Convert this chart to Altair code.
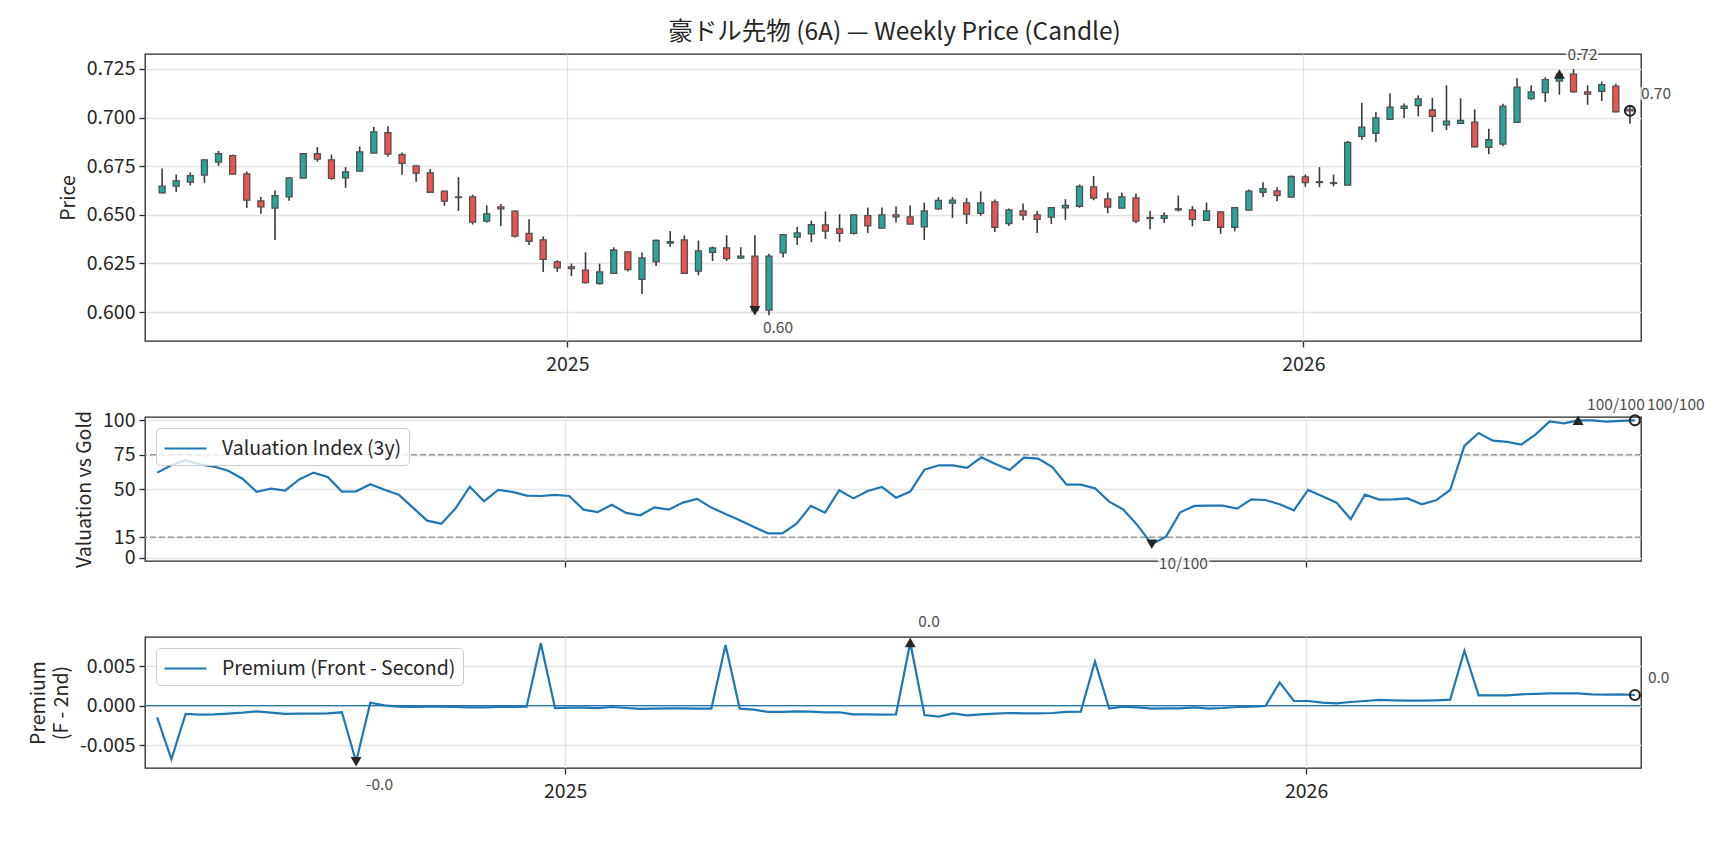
import altair as alt
import numpy as np
import pandas as pd

FONT = "Noto Sans CJK JP"
INK = "#262626"
TEAL = "#26a69a"
RED = "#ef5350"
BLUE = "#1f77b4"
NOTE = "#4d4d4d"
GRID = "#e4e4e4"

# Weekly bars start on this Friday
first_week = "2024-06-14"

open_px = [
    0.6613, 0.6647, 0.6668, 0.6704, 0.6771, 0.6804, 0.6711, 0.6572, 0.6534, 0.6592,
    0.6689, 0.6814, 0.6783, 0.6690, 0.6725, 0.6817, 0.6922, 0.6809, 0.6752, 0.6716,
    0.6622, 0.6589, 0.6592, 0.6467, 0.6541, 0.6519, 0.6404, 0.6371, 0.6258, 0.6232,
    0.6216, 0.6146, 0.6199, 0.6309, 0.6168, 0.6258, 0.6354, 0.6371, 0.6210, 0.6307,
    0.6330, 0.6277, 0.6288, 0.6010, 0.6304, 0.6385, 0.6402, 0.6448, 0.6428, 0.6405,
    0.6496, 0.6431, 0.6500, 0.6489, 0.6438, 0.6531, 0.6560, 0.6561, 0.6507, 0.6567,
    0.6455, 0.6520, 0.6500, 0.6488, 0.6536, 0.6544, 0.6644, 0.6582, 0.6534, 0.6587,
    0.6486, 0.6482, 0.6525, 0.6525, 0.6472, 0.6515, 0.6436, 0.6524, 0.6616, 0.6623,
    0.6591, 0.6695, 0.6670, 0.6661, 0.6653, 0.6903, 0.6919, 0.6991, 0.7047, 0.7061,
    0.7039, 0.6963, 0.6970, 0.6977, 0.6847, 0.6864, 0.6975, 0.7097, 0.7128, 0.7188,
    0.7224, 0.7132, 0.7135, 0.7162, 0.7042,
]
high_px = [
    0.6738, 0.6707, 0.6718, 0.6785, 0.6828, 0.6810, 0.6723, 0.6591, 0.6625, 0.6692,
    0.6816, 0.6848, 0.6810, 0.6745, 0.6852, 0.6951, 0.6956, 0.6821, 0.6754, 0.6735,
    0.6624, 0.6694, 0.6604, 0.6549, 0.6555, 0.6522, 0.6477, 0.6388, 0.6266, 0.6249,
    0.6307, 0.6249, 0.6333, 0.6311, 0.6306, 0.6373, 0.6416, 0.6395, 0.6368, 0.6337,
    0.6395, 0.6333, 0.6395, 0.6300, 0.6400, 0.6438, 0.6470, 0.6517, 0.6503, 0.6502,
    0.6537, 0.6537, 0.6543, 0.6548, 0.6563, 0.6591, 0.6591, 0.6586, 0.6620, 0.6579,
    0.6532, 0.6558, 0.6519, 0.6539, 0.6580, 0.6656, 0.6699, 0.6615, 0.6615, 0.6610,
    0.6519, 0.6512, 0.6599, 0.6544, 0.6563, 0.6519, 0.6539, 0.6630, 0.6668, 0.6642,
    0.6702, 0.6707, 0.6745, 0.6707, 0.6879, 0.7075, 0.7027, 0.7125, 0.7073, 0.7114,
    0.7102, 0.7166, 0.7099, 0.7042, 0.6943, 0.7071, 0.7202, 0.7166, 0.7207, 0.7230,
    0.7250, 0.7166, 0.7185, 0.7174, 0.7054,
]
low_px = [
    0.6610, 0.6618, 0.6651, 0.6665, 0.6752, 0.6707, 0.6536, 0.6505, 0.6371, 0.6572,
    0.6687, 0.6773, 0.6680, 0.6639, 0.6723, 0.6815, 0.6798, 0.6706, 0.6670, 0.6614,
    0.6546, 0.6520, 0.6450, 0.6460, 0.6443, 0.6383, 0.6345, 0.6206, 0.6206, 0.6185,
    0.6146, 0.6141, 0.6197, 0.6208, 0.6093, 0.6237, 0.6335, 0.6197, 0.6189, 0.6263,
    0.6263, 0.6275, 0.6005, 0.5983, 0.6280, 0.6345, 0.6359, 0.6376, 0.6361, 0.6398,
    0.6407, 0.6429, 0.6460, 0.6450, 0.6371, 0.6525, 0.6484, 0.6453, 0.6495, 0.6412,
    0.6443, 0.6472, 0.6407, 0.6453, 0.6474, 0.6536, 0.6575, 0.6508, 0.6532, 0.6458,
    0.6426, 0.6458, 0.6517, 0.6441, 0.6470, 0.6402, 0.6416, 0.6522, 0.6591, 0.6570,
    0.6589, 0.6644, 0.6642, 0.6646, 0.6651, 0.6886, 0.6874, 0.6989, 0.6998, 0.7006,
    0.6926, 0.6936, 0.6968, 0.6847, 0.6812, 0.6853, 0.6973, 0.7092, 0.7080, 0.7118,
    0.7128, 0.7066, 0.7085, 0.7027, 0.6968,
]
close_px = [
    0.6647, 0.6675, 0.6701, 0.6783, 0.6814, 0.6709, 0.6575, 0.6541, 0.6598, 0.6690,
    0.6814, 0.6786, 0.6687, 0.6721, 0.6824, 0.6927, 0.6812, 0.6764, 0.6714, 0.6616,
    0.6570, 0.6592, 0.6462, 0.6505, 0.6531, 0.6390, 0.6364, 0.6271, 0.6227, 0.6223,
    0.6151, 0.6206, 0.6319, 0.6218, 0.6278, 0.6368, 0.6362, 0.6199, 0.6314, 0.6330,
    0.6275, 0.6288, 0.6007, 0.6288, 0.6398, 0.6407, 0.6450, 0.6416, 0.6405, 0.6500,
    0.6443, 0.6500, 0.6489, 0.6452, 0.6520, 0.6574, 0.6575, 0.6503, 0.6561, 0.6436,
    0.6525, 0.6498, 0.6477, 0.6537, 0.6548, 0.6646, 0.6586, 0.6539, 0.6592, 0.6467,
    0.6481, 0.6496, 0.6531, 0.6477, 0.6520, 0.6436, 0.6537, 0.6622, 0.6635, 0.6599,
    0.6697, 0.6666, 0.6666, 0.6665, 0.6872, 0.6951, 0.6998, 0.7054, 0.7059, 0.7096,
    0.7006, 0.6982, 0.6986, 0.6850, 0.6886, 0.7059, 0.7157, 0.7132, 0.7195, 0.7224,
    0.7132, 0.7121, 0.7169, 0.7029, 0.7035,
]
valuation = [
    62.0, 67.3, 71.0, 68.0, 66.3, 63.4, 57.6, 48.0, 50.4, 49.0,
    57.0, 62.0, 58.8, 48.2, 48.4, 53.5, 49.6, 46.0, 36.6, 27.1,
    24.9, 36.0, 51.8, 41.2, 49.4, 48.0, 45.3, 45.0, 45.8, 45.0,
    35.1, 33.3, 38.7, 32.7, 31.0, 36.8, 35.1, 40.2, 42.9, 36.6,
    32.0, 27.4, 22.5, 17.9, 17.9, 24.9, 37.8, 32.9, 49.2, 43.3,
    48.7, 51.6, 43.8, 48.2, 64.2, 67.3, 67.3, 65.4, 73.1, 68.3,
    63.9, 72.9, 72.2, 66.1, 53.3, 53.3, 50.6, 40.9, 35.1, 23.7,
    10.0, 15.5, 33.2, 37.8, 38.0, 38.0, 35.8, 42.6, 42.1, 39.0,
    34.6, 49.4, 44.8, 40.2, 28.3, 46.0, 42.4, 42.6, 43.3, 39.0,
    41.9, 49.4, 81.4, 90.8, 85.2, 84.3, 82.3, 89.6, 99.2, 97.8,
    100.0, 100.0, 99.0, 99.6, 100.0,
]
premium = [
    -0.00148, -0.00680, -0.00105, -0.00114, -0.00110, -0.00101, -0.00089, -0.00072, -0.00089, -0.00105,
    -0.00101, -0.00101, -0.00097, -0.00084, -0.00710, 0.00038, 0.00004, -0.00013, -0.00017, -0.00013,
    -0.00013, -0.00017, -0.00021, -0.00021, -0.00017, -0.00017, -0.00013, 0.00790, -0.00030, -0.00025,
    -0.00025, -0.00030, -0.00017, -0.00030, -0.00042, -0.00038, -0.00034, -0.00034, -0.00038, -0.00038,
    0.00770, -0.00038, -0.00050, -0.00080, -0.00080, -0.00072, -0.00076, -0.00084, -0.00084, -0.00110,
    -0.00110, -0.00114, -0.00110, 0.00800, -0.00118, -0.00139, -0.00097, -0.00122, -0.00110, -0.00101,
    -0.00093, -0.00097, -0.00097, -0.00093, -0.00080, -0.00076, 0.00561, -0.00038, -0.00013, -0.00021,
    -0.00038, -0.00034, -0.00034, -0.00021, -0.00038, -0.00030, -0.00017, -0.00013, -0.00004, 0.00295,
    0.00059, 0.00059, 0.00038, 0.00030, 0.00046, 0.00059, 0.00072, 0.00068, 0.00063, 0.00063,
    0.00068, 0.00076, 0.00696, 0.00131, 0.00131, 0.00131, 0.00143, 0.00150, 0.00156, 0.00156,
    0.00156, 0.00143, 0.00139, 0.00143, 0.00135,
]

weeks = pd.date_range(first_week, periods=len(close_px), freq="7D").strftime("%Y-%m-%d").tolist()

weekly = pd.DataFrame({
    "date": weeks,
    "open": open_px,
    "high": high_px,
    "low": low_px,
    "close": close_px,
    "valuation": valuation,
    "premium": premium,
    "val_series": "Valuation Index (3y)",
    "prem_series": "Premium (Front - Second)",
})

W = 1496
X_SCALE = alt.Scale(
    type="utc",
    domain=[
        alt.DateTime(year=2024, month=6, date=8, utc=True),
        alt.DateTime(year=2026, month=6, date=15, utc=True),
    ],
)
YEAR_TICKS = [
    alt.DateTime(year=2025, month=1, date=1, utc=True),
    alt.DateTime(year=2026, month=1, date=1, utc=True),
]


def x_enc(show_labels, title=None):
    axis = alt.Axis(values=YEAR_TICKS, format="%Y", formatType="utc", labels=show_labels,
                    labelPadding=8, titlePadding=8)
    return alt.X("date:T", scale=X_SCALE, axis=axis, title=title)


def annotations(field, y_of, values, fmt, offsets, show_x_labels=True):
    """Markers for the lowest, highest and latest value, each with its text."""
    lo = int(np.argmin(values))
    hi = int(np.argmax(values))
    last = len(values) - 1
    pts = pd.DataFrame({
        "date": [weeks[lo], weeks[hi], weeks[last]],
        field: [values[lo], values[hi], values[last]],
        "kind": ["min", "max", "last"],
        "label": [fmt(values[lo]), fmt(values[hi]), fmt(values[last])],
    })
    base = alt.Chart(pts)
    enc = dict(x=x_enc(show_x_labels), y=y_of(field))
    layers = [
        base.transform_filter("datum.kind == 'min'").mark_point(
            shape="triangle-down", filled=True, size=120, color=INK, opacity=1).encode(**enc),
        base.transform_filter("datum.kind == 'max'").mark_point(
            shape="triangle-up", filled=True, size=120, color=INK, opacity=1).encode(**enc),
        base.transform_filter("datum.kind == 'last'").mark_point(
            shape="circle", filled=False, size=100, strokeWidth=2.2, color=INK, opacity=1).encode(**enc),
    ]
    for kind, (dx, dy) in offsets.items():
        sub = base.transform_filter(f"datum.kind == '{kind}'")
        common = dict(align="left", baseline="middle", dx=dx, dy=dy, fontSize=15.5, font=FONT)
        layers.append(sub.mark_text(stroke="white", strokeWidth=5, strokeOpacity=0.75,
                                    color="white", **common).encode(text="label:N", **enc))
        layers.append(sub.mark_text(color=NOTE, **common).encode(text="label:N", **enc))
    return layers


def line_legend():
    return alt.Legend(orient="top-left", offset=11, title=None)


# ---- candlestick panel ----
PRICE_SCALE = alt.Scale(domain=[0.5851, 0.7327], nice=False, zero=False)
PRICE_AXIS = alt.Axis(values=[0.600, 0.625, 0.650, 0.675, 0.700, 0.725], format=".3f")


def y_price(field):
    return alt.Y(f"{field}:Q", scale=PRICE_SCALE, axis=PRICE_AXIS, title="Price")


cbase = alt.Chart(weekly)
wicks = cbase.mark_rule(color="#3a3a3a", strokeWidth=1.6).encode(
    x=x_enc(True), y=y_price("low"), y2="high:Q")
bodies = cbase.mark_bar(size=6, stroke="#505050", strokeWidth=1.3).encode(
    x=x_enc(True), y=y_price("open"), y2="close:Q",
    color=alt.condition("datum.close >= datum.open", alt.value(TEAL), alt.value(RED)),
)
price_panel = alt.layer(
    wicks, bodies,
    *annotations("px", y_price, close_px, lambda v: f"{v:.2f}",
                 {"min": (8, 17), "max": (8, -19), "last": (11, -17)})
).properties(width=W, height=287)

# ---- valuation panel ----
VAL_SCALE = alt.Scale(domain=[-2.2, 102.4], nice=False, zero=False)
VAL_AXIS = alt.Axis(values=[0, 15, 50, 75, 100], format="d")


def y_val(field):
    return alt.Y(f"{field}:Q", scale=VAL_SCALE, axis=VAL_AXIS, title="Valuation vs Gold")


bands = alt.Chart(pd.DataFrame({"level": [15, 75]})).mark_rule(
    color="#9a9a9a", strokeWidth=1.4, strokeDash=[6, 3]).encode(y=y_val("level"))
val_line = alt.Chart(weekly).mark_line(strokeWidth=2.2).encode(
    x=x_enc(False), y=y_val("valuation"),
    color=alt.Color("val_series:N", scale=alt.Scale(range=[BLUE]), legend=line_legend()),
)
val_panel = alt.layer(
    bands, val_line,
    *annotations("v", y_val, valuation, lambda v: f"{v:.0f}/100",
                 {"min": (7, 20), "max": (9, -15), "last": (12, -15)}, show_x_labels=False)
).properties(width=W, height=144)

# ---- premium panel ----
PREM_SCALE = alt.Scale(domain=[-0.0079, 0.0087], nice=False, zero=False)
PREM_AXIS = alt.Axis(
    values=[-0.005, 0.0, 0.005],
    labelExpr="datum.value < 0 ? '-' + format(-datum.value, '.3f') : format(datum.value, '.3f')",
)


def y_prem(field):
    return alt.Y(f"{field}:Q", scale=PREM_SCALE, axis=PREM_AXIS, title=["Premium", "(F - 2nd)"])


zero_line = alt.Chart(pd.DataFrame({"z": [0.0]})).mark_rule(
    color=BLUE, strokeWidth=1.4).encode(y=y_prem("z"))
prem_line = alt.Chart(weekly).mark_line(strokeWidth=2.2).encode(
    x=x_enc(True, "Date"), y=y_prem("premium"),
    color=alt.Color("prem_series:N", scale=alt.Scale(range=[BLUE]), legend=line_legend()),
)
prem_panel = alt.layer(
    zero_line, prem_line,
    *annotations("p", y_prem, premium, lambda v: f"{v:.1f}",
                 {"min": (10, 23), "max": (8, -21), "last": (13, -17)})
).properties(width=W, height=131)

chart = alt.vconcat(
    price_panel, val_panel, prem_panel, spacing=76, bounds="flush"
).resolve_scale(color="independent").properties(
    title=alt.TitleParams(
        text="豪ドル先物 (6A) — Weekly Price (Candle)",
        anchor="middle", fontSize=24.5, fontWeight="normal", font=FONT, color=INK,
        offset=2, dx=28,
    ),
    padding={"left": 27, "top": 19, "right": 5, "bottom": 5},
).configure(font=FONT).configure_view(
    stroke=INK, strokeWidth=1.3
).configure_axis(
    labelFont=FONT, titleFont=FONT, labelFontSize=19.5, titleFontSize=19.5, titleFontWeight="normal",
    labelColor=INK, titleColor=INK, tickColor=INK, tickSize=6, tickWidth=1.3, domain=False,
    gridColor=GRID, gridWidth=1.3, titlePadding=8, labelPadding=4, titleLineHeight=23,
).configure_legend(
    # a short horizontal stroke, drawn 42px long from the entry's left edge
    labelFont=FONT, labelFontSize=19.5, labelColor=INK, symbolType="M-1,0H2.5", symbolSize=576,
    symbolStrokeWidth=2.2, labelOffset=32, padding=7, strokeColor="#cccccc",
    fillColor="rgba(255,255,255,0.8)", cornerRadius=4, labelLimit=400,
)

chart.save("out.html", embed_options={"renderer": "svg", "actions": False})
